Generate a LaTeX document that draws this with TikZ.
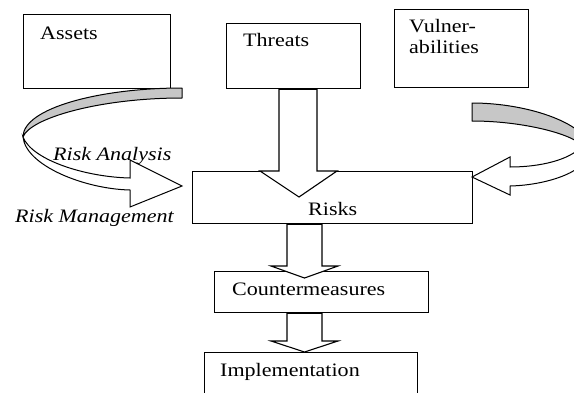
\documentclass[tikz,border=0pt]{standalone}
\usepackage{fontspec}
\setmainfont{Liberation Serif}[FakeStretch=1.16]
\usetikzlibrary{calc}
\begin{document}
\begin{tikzpicture}[x=1pt,y=-1pt,
  box/.style={draw, line width=1.3pt, rectangle, inner sep=0pt, anchor=north west},
  lbl/.style={inner sep=0pt, anchor=base west, font=\fontsize{19}{20}\selectfont},
  ilbl/.style={inner sep=0pt, anchor=base west, font=\fontsize{19}{20}\selectfont\itshape},
  blk/.style={draw, line width=1.1pt, fill=white, line join=miter},
  band/.style={draw, line width=1pt, fill=black!22, line join=round},
  wband/.style={draw, line width=1pt, fill=white, line join=miter},
]
\useasboundingbox (0,0) rectangle (574,392);
\clip (0,0) rectangle (574,392);

% boxes
\node[box, minimum width=147pt, minimum height=74pt] (assets) at (23,14) {};
\node[box, minimum width=134pt, minimum height=65pt] (threats) at (226,23) {};
\node[box, minimum width=134pt, minimum height=78pt] (vulner) at (394,9) {};
\node[box, minimum width=280pt, minimum height=52pt] (risks) at (192,171) {};
\node[box, minimum width=214pt, minimum height=41pt] (counter) at (214,271) {};
\node[box, minimum width=213pt, minimum height=50pt] (impl) at (204,352) {};

% left curved arrow
\path[band] (182,88) .. controls (100,88) and (23,108) .. (23,137)
   .. controls (30,118) and (100,98) .. (182,98) -- cycle;
\path[wband] (23,137) .. controls (26,166) and (85,189) .. (130,190)
   -- (130,207) -- (182,186) -- (130,160) -- (130,178)
   .. controls (85,177) and (32,160) .. (23,137) -- cycle;

% right curved arrow
\path[band] (472,103) .. controls (530,103) and (590,125) .. (590,150)
   -- (582,146) .. controls (575,135) and (525,121) .. (472,121) -- cycle;
\path[wband] (582,146) .. controls (570,160) and (540,167) .. (510,167)
   -- (510,157) -- (472,177) -- (510,195) -- (510,186)
   .. controls (550,185) and (590,170) .. (590,150) -- cycle;

% block arrows
\coordinate (tx) at (298,0);
\draw[blk] ($(tx|-threats.south)+(-19,0)$) -- ($(tx|-risks.north)+(-19,0)$)
   -- ($(tx|-risks.north)+(-38,0)$) -- ($(tx|-risks.north)+(1,26)$)
   -- ($(tx|-risks.north)+(39,0)$) -- ($(tx|-risks.north)+(19,0)$)
   -- ($(tx|-threats.south)+(19,0)$) -- cycle;
\coordinate (ax) at (304.5,0);
\draw[blk] ($(ax|-risks.south)+(-17.5,0)$) -- ($(ax|-counter.north)+(-17.5,-5)$)
   -- ($(ax|-counter.north)+(-33.5,-5)$) -- ($(ax|-counter.north)+(0,7)$)
   -- ($(ax|-counter.north)+(33.5,-5)$) -- ($(ax|-counter.north)+(17.5,-5)$)
   -- ($(ax|-risks.south)+(17.5,0)$) -- cycle;
\draw[blk] ($(ax|-counter.south)+(-17.5,0)$) -- ($(ax|-impl.north)+(-17.5,-11)$)
   -- ($(ax|-impl.north)+(-33.5,-11)$) -- (ax|-impl.north)
   -- ($(ax|-impl.north)+(33.5,-11)$) -- ($(ax|-impl.north)+(17.5,-11)$)
   -- ($(ax|-counter.south)+(17.5,0)$) -- cycle;

% texts
\node[lbl] (tassets) at (40,39) {Assets};
\node[lbl] (tthreats) at (243,46.5) {Threats};
\node[lbl] (tvul1) at (409,32.5) {Vulner-};
\node[lbl] (tvul2) at (409,53) {abilities};
\node[lbl] (trisks) at (308,215) {Risks};
\node[lbl] (tcounter) at (232,295) {Countermeasures};
\node[lbl] (timpl) at (220,376) {Implementation};
\node[ilbl] (tra) at (53,160) {Risk Analysis};
\node[ilbl] (trm) at (15,222.5) {Risk Management};
\end{tikzpicture}
\end{document}
